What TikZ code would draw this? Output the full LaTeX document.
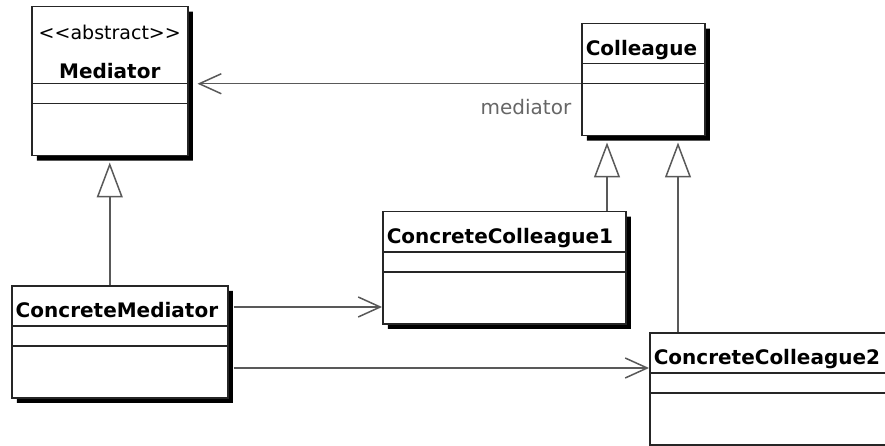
\documentclass[tikz,border=0pt]{standalone}
\usepackage{fontspec}
\newfontfamily\umlfont{DejaVu Sans}
\usetikzlibrary{shapes.multipart, arrows.meta, calc, shadows}

\begin{document}
\begin{tikzpicture}[
    x=1pt, y=-1pt,
    umlclass/.style={rectangle split, rectangle split parts=3, draw=black!85, line width=1.5pt,
                     fill=white, inner xsep=4pt, inner ysep=0pt, anchor=north west, align=left,
                     font=\umlfont\bfseries\fontsize{20pt}{39pt}\selectfont,
                     drop shadow={shadow xshift=5pt, shadow yshift=-5pt, fill=black, opacity=1}},
    assoc/.style={-{Straight Barb[length=22pt, width=20pt]}, line width=1.5pt, draw=black!65},
    inherit/.style={-{Triangle[length=35pt, width=26pt, fill=white]}, line width=1.5pt, draw=black!65},
    role/.style={font=\umlfont\fontsize{20pt}{24pt}\selectfont, text=black!60, inner sep=0pt}
]
\useasboundingbox (0,0) rectangle (885,446);
\clip (0,0) rectangle (885,446);

% classes
\node[umlclass, text width=148pt, align=center] (med) at (31,6)
    {\rule{0pt}{32pt}{\mdseries\fontsize{19pt}{39pt}\selectfont <\kern0pt<abstract>\kern0pt>}\\
     \rule[-4.5pt]{0pt}{0pt}Mediator
     \nodepart{two}\rule{0pt}{18.5pt}
     \nodepart{three}\rule{0pt}{50.5pt}};
\node[umlclass, text width=115pt] (col) at (581,23)
    {\rule[-7.5pt]{0pt}{38.5pt}Colleague
     \nodepart{two}\rule{0pt}{18.5pt}
     \nodepart{three}\rule{0pt}{50.5pt}};
\node[umlclass, text width=235pt] (cc1) at (382,211)
    {\rule[-7.5pt]{0pt}{38.5pt}ConcreteColleague1
     \nodepart{two}\rule{0pt}{18.5pt}
     \nodepart{three}\rule{0pt}{50.5pt}};
\node[umlclass, text width=208pt] (cm) at (11,285)
    {\rule[-7.5pt]{0pt}{38.5pt}ConcreteMediator
     \nodepart{two}\rule{0pt}{18.5pt}
     \nodepart{three}\rule{0pt}{50.5pt}};
\node[umlclass, text width=238pt] (cc2) at (649,332)
    {\rule[-7.5pt]{0pt}{38.5pt}ConcreteColleague2
     \nodepart{two}\rule{0pt}{18.5pt}
     \nodepart{three}\rule{0pt}{50.5pt}};

% attachment points
\coordinate (colA) at ($(col.south west)+(26,0)$);
\coordinate (colB) at ($(col.south west)+(97,0)$);
\coordinate (cmA) at ($(cm.north east)+(0,22)$);
\coordinate (cmB) at ($(cm.north east)+(0,83)$);

% generalisation
\draw[inherit, shorten >=6pt] (med.south |- cm.north) -- (med.south);
\draw[inherit, shorten >=6pt] (colA |- cc1.north) -- (colA);
\draw[inherit, shorten >=6pt] (colB |- cc2.north) -- (colB);

% associations
\draw[assoc, shorten >=9pt] (col.two split west)
    node[role, anchor=base east, xshift=-9pt, yshift=-31pt] (medrole) {mediator}
    -- (col.two split west -| med.east);
\draw[assoc, shorten <=5pt] (cmA) -- (cmA -| cc1.west);
\draw[assoc, shorten <=5pt] (cmB) -- (cmB -| cc2.west);
\end{tikzpicture}
\end{document}
